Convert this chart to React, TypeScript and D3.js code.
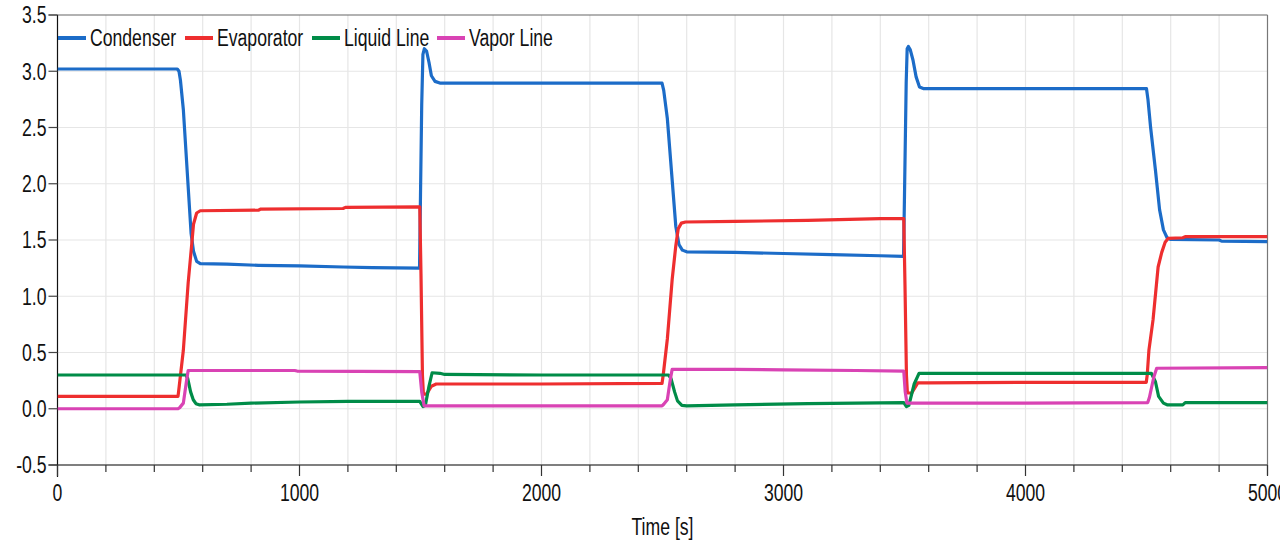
import React from "react";
import * as d3 from "d3";

type Pt = [number, number];

const seriesNames = ["Condenser", "Evaporator", "Liquid Line", "Vapor Line"];
const seriesColors = ["#1c6cc8", "#ee2e2f", "#008c48", "#d943b4"];

const condenser: Pt[] = [
  [0, 3.02], [495, 3.02], [502, 3.0], [508, 2.92], [520, 2.66], [552, 1.56], [562, 1.4], [575, 1.31],
  [590, 1.29], [700, 1.285], [830, 1.275], [1000, 1.27], [1180, 1.26], [1300, 1.255], [1496, 1.25],
  [1500, 1.9], [1505, 2.7], [1510, 3.15], [1516, 3.2], [1525, 3.18], [1535, 3.08], [1545, 2.96],
  [1560, 2.91], [1580, 2.895], [2000, 2.895], [2498, 2.895], [2505, 2.83], [2520, 2.58], [2555, 1.62],
  [2568, 1.46], [2582, 1.41], [2600, 1.395], [2800, 1.39], [3000, 1.38], [3200, 1.37], [3400, 1.36],
  [3496, 1.355], [3500, 1.9], [3507, 2.9], [3511, 3.2], [3516, 3.22], [3524, 3.19], [3535, 3.1],
  [3548, 2.95], [3562, 2.86], [3580, 2.845], [4000, 2.845], [4500, 2.845], [4506, 2.75], [4517, 2.5],
  [4537, 2.12], [4554, 1.77], [4570, 1.59], [4585, 1.52], [4600, 1.505], [4800, 1.5], [4810, 1.49],
  [5000, 1.485],
];

const evaporator: Pt[] = [
  [0, 0.11], [498, 0.11], [503, 0.2], [520, 0.52], [540, 1.12], [555, 1.47], [562, 1.64], [575, 1.74],
  [590, 1.76], [830, 1.765], [840, 1.775], [1180, 1.78], [1190, 1.79], [1497, 1.795], [1502, 1.2],
  [1508, 0.3], [1512, 0.13], [1525, 0.13], [1545, 0.2], [1565, 0.22], [2000, 0.22], [2498, 0.225],
  [2503, 0.3], [2520, 0.62], [2540, 1.15], [2555, 1.45], [2565, 1.6], [2578, 1.65], [2595, 1.66],
  [2800, 1.665], [3100, 1.675], [3400, 1.69], [3497, 1.69], [3502, 1.1], [3508, 0.3], [3512, 0.14],
  [3530, 0.14], [3555, 0.23], [3600, 0.23], [4000, 0.235], [4499, 0.235], [4503, 0.3], [4510, 0.52],
  [4527, 0.79], [4548, 1.26], [4563, 1.39], [4577, 1.48], [4590, 1.515], [4650, 1.52], [4660, 1.53],
  [5000, 1.53],
];

const liquidLine: Pt[] = [
  [0, 0.3], [530, 0.3], [538, 0.27], [550, 0.15], [561, 0.08], [572, 0.045], [585, 0.035], [700, 0.04],
  [800, 0.05], [1000, 0.06], [1200, 0.065], [1497, 0.065], [1510, 0.02], [1520, 0.03], [1535, 0.2],
  [1548, 0.32], [1580, 0.315], [1600, 0.305], [2000, 0.3], [2525, 0.3], [2535, 0.27], [2550, 0.15],
  [2562, 0.07], [2580, 0.03], [2600, 0.025], [2800, 0.035], [3100, 0.045], [3497, 0.055], [3508, 0.02],
  [3518, 0.03], [3540, 0.22], [3560, 0.315], [4000, 0.315], [4520, 0.315], [4537, 0.24], [4550, 0.11],
  [4570, 0.05], [4585, 0.035], [4650, 0.035], [4660, 0.055], [5000, 0.055],
];

const vaporLine: Pt[] = [
  [0, 0.0], [498, 0.0], [505, 0.01], [520, 0.05], [534, 0.26], [540, 0.34], [980, 0.34], [990, 0.335],
  [1497, 0.33], [1505, 0.15], [1515, 0.025], [2000, 0.025], [2498, 0.025], [2505, 0.04], [2520, 0.08],
  [2533, 0.27], [2540, 0.35], [2800, 0.35], [3000, 0.345], [3300, 0.34], [3497, 0.335], [3503, 0.15],
  [3510, 0.05], [4000, 0.05], [4505, 0.055], [4512, 0.1], [4530, 0.28], [4542, 0.36], [5000, 0.365],
];

const seriesData = [condenser, evaporator, liquidLine, vaporLine];

const xMajorTicks = [0, 1000, 2000, 3000, 4000, 5000];
const xMinorTicks = d3.range(0, 5001, 200);
const yTicks = [-0.5, 0, 0.5, 1, 1.5, 2, 2.5, 3, 3.5];
const yTickLabels = ["-0.5", "0.0", "0.5", "1.0", "1.5", "2.0", "2.5", "3.0", "3.5"];
const xLabel = "Time [s]";

const W = 1280;
const H = 543;
const left = 57.5;
const right = 1267.5;
const top = 15;
const bottom = 465;

const FONT = "'Liberation Sans', Arial, sans-serif";
const FS = 23.5;
const SX = 0.75;

function Txt({ x, y, anchor, children }: { x: number; y: number; anchor: string; children: React.ReactNode }) {
  return (
    <g transform={`translate(${x},${y}) scale(${SX},1)`}>
      <text x={0} y={0} textAnchor={anchor as any} dominantBaseline="central" fontFamily={FONT} fontSize={FS} fill="#111">
        {children}
      </text>
    </g>
  );
}

export default function App() {
  const x = d3.scaleLinear().domain([0, 5000]).range([left, right]);
  const y = d3.scaleLinear().domain([-0.5, 3.5]).range([bottom, top]);
  const line = d3
    .line<Pt>()
    .x((d) => x(d[0]))
    .y((d) => y(d[1]));

  const legendX = [58, 185, 312, 437];

  return (
    <svg width={W} height={H} style={{ position: "absolute", left: 0, top: 0, background: "#fff" }}>
      <defs>
        <clipPath id="plotclip">
          <rect x={left} y={top} width={right - left} height={bottom - top} />
        </clipPath>
      </defs>
      {/* grid */}
      {xMinorTicks
        .filter((t) => t > 0 && t < 5000)
        .map((t) => (
          <line key={"gx" + t} x1={x(t)} x2={x(t)} y1={top} y2={bottom} stroke="#e6e6e6" strokeWidth={1.2} />
        ))}
      {yTicks
        .filter((t) => t > -0.5 && t < 3.5)
        .map((t) => (
          <line key={"gy" + t} x1={left} x2={right} y1={y(t)} y2={y(t)} stroke="#e6e6e6" strokeWidth={1.2} />
        ))}
      {/* borders */}
      <line x1={left - 9} x2={right} y1={y(3.5)} y2={y(3.5)} stroke="#666" strokeWidth={1.2} />
      <line x1={right} x2={right} y1={top} y2={bottom + 10} stroke="#777" strokeWidth={1.2} />
      <line x1={left - 9} x2={right} y1={bottom} y2={bottom} stroke="#555" strokeWidth={1.4} />
      <line x1={left} x2={left} y1={top} y2={bottom + 12} stroke="#111" strokeWidth={1.2} />
      {/* y ticks */}
      {yTicks.map((t, i) => (
        <g key={"yt" + t}>
          <line x1={left - 9} x2={left} y1={y(t)} y2={y(t)} stroke="#444" strokeWidth={1.2} />
          <Txt x={left - 11} y={y(t)} anchor="end">
            {yTickLabels[i]}
          </Txt>
        </g>
      ))}
      {/* x ticks */}
      {xMinorTicks.map((t) => {
        const major = xMajorTicks.includes(t);
        return (
          <line key={"xt" + t} x1={x(t)} x2={x(t)} y1={bottom} y2={bottom + (major ? 11 : 7)} stroke="#333" strokeWidth={1.2} />
        );
      })}
      {xMajorTicks.map((t) => (
        <Txt key={"xl" + t} x={x(t)} y={493} anchor="middle">
          {String(t)}
        </Txt>
      ))}
      <Txt x={(left + right) / 2} y={527} anchor="middle">
        {xLabel}
      </Txt>
      {/* series */}
      <g clipPath="url(#plotclip)">
        {seriesData.map((d, i) => (
          <path key={"s" + i} d={line(d) || ""} fill="none" stroke={seriesColors[i]} strokeWidth={3.2} strokeLinejoin="round" />
        ))}
      </g>
      {/* legend */}
      {seriesNames.map((n, i) => (
        <g key={"lg" + i}>
          <line x1={legendX[i]} x2={legendX[i] + 28} y1={38} y2={38} stroke={seriesColors[i]} strokeWidth={4} />
          <Txt x={legendX[i] + 32} y={38} anchor="start">
            {n}
          </Txt>
        </g>
      ))}
    </svg>
  );
}
